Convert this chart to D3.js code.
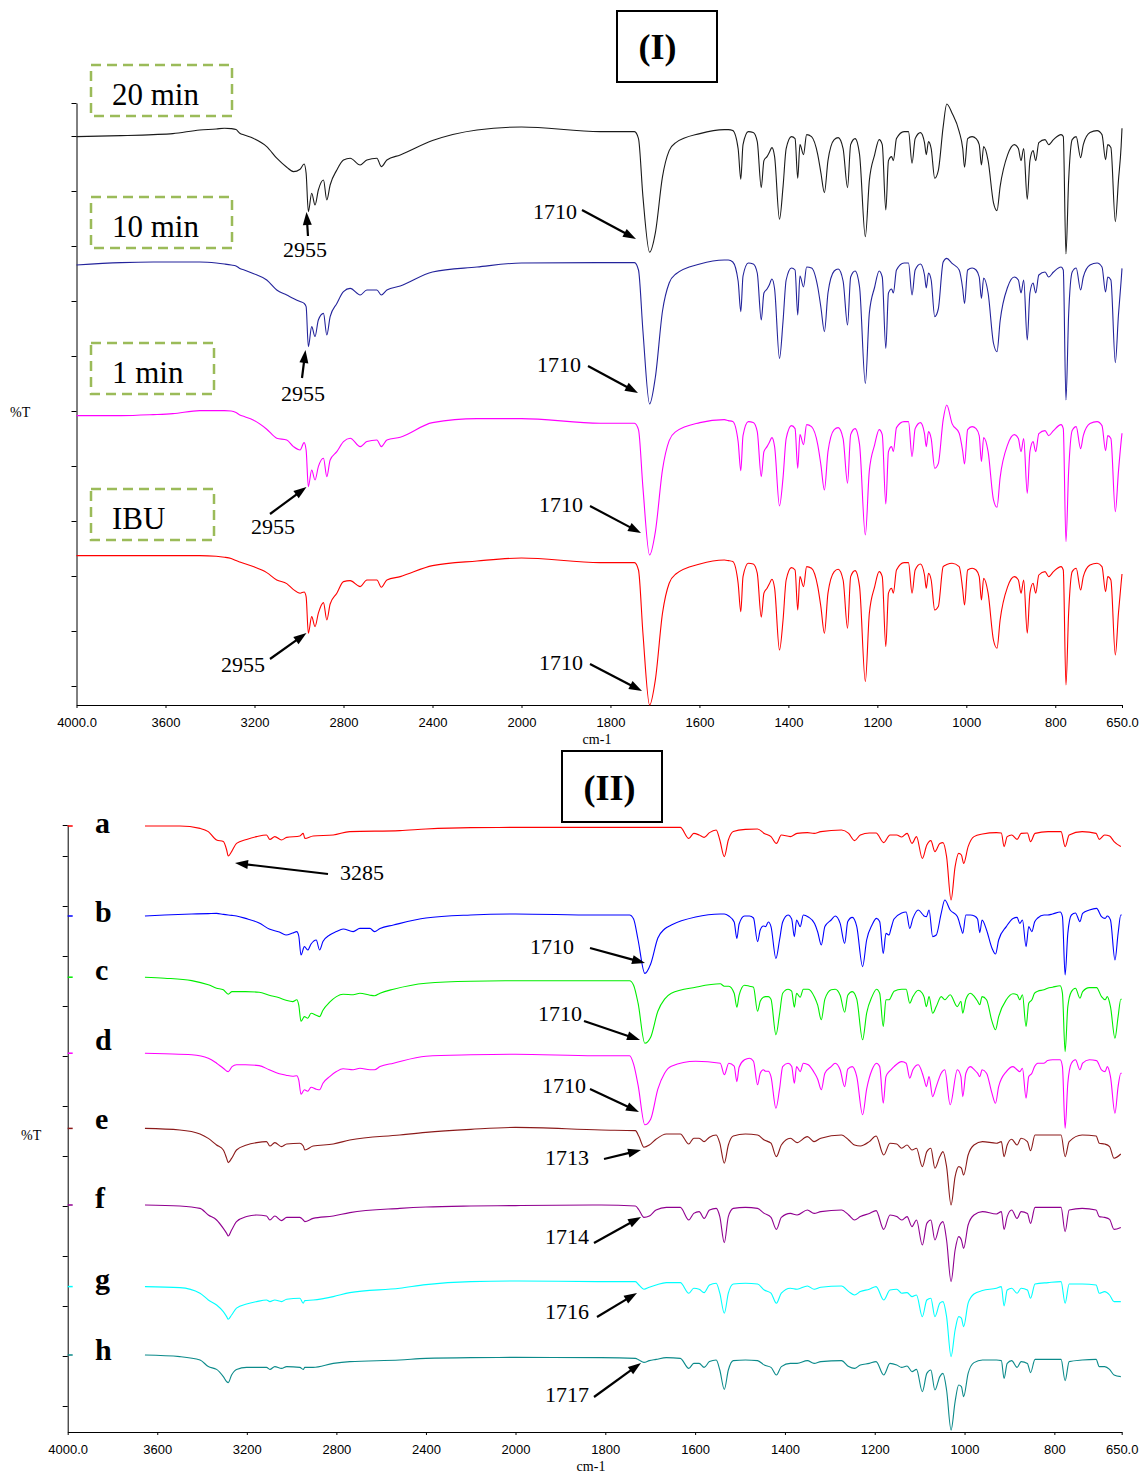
<!DOCTYPE html>
<html>
<head>
<meta charset="utf-8">
<script src="https://cdn.jsdelivr.net/npm/d3@7"></script>
<style>
  body { margin: 0; background: #fff; }
  svg { display: block; }
</style>
</head>
<body>
<div id="chart"></div>
<script>
// ---- wavenumber grids (cm-1) ----
// IBU-type spectra (panel I, and b, c, d of panel II)
const ibuHighWn = [4000, 3800, 3655, 3567, 3446, 3372, 3335, 3305, 3283, 3266,
  3246, 3206, 3145, 3100, 3055, 3025, 2995, 2977, 2968, 2958,
  2943, 2928, 2913, 2890, 2875, 2860, 2830, 2800, 2770, 2725,
  2695, 2650, 2630, 2605, 2545, 2400, 2200, 2000];
const ibuFingerWn = [
  1823, 1746, 1737, 1727, 1712, 1699, 1683, 1668, 1653, 1599,
  1544, 1535, 1525, 1513, 1507, 1502, 1490, 1479, 1470, 1461,
  1455, 1448, 1443, 1437, 1431, 1420, 1412, 1405, 1393, 1385,
  1379, 1374, 1366, 1359, 1348, 1334, 1327, 1319, 1311, 1297,
  1288, 1277, 1267, 1260, 1250, 1240, 1227, 1218, 1206, 1196,
  1189, 1181, 1175, 1168, 1164, 1157, 1140, 1130, 1122, 1115,
  1103, 1094, 1090, 1085, 1079, 1071, 1063, 1052, 1044, 1032,
  1016, 1008, 1004, 997, 987, 978, 971, 966, 961, 951,
  939, 931, 924, 907, 892, 883, 877, 871, 863, 857,
  850, 844, 837, 823, 815, 804, 787, 782, 776, 770,
  762, 753, 743, 737, 722, 706, 695, 687, 682, 675,
  665, 658, 652, 650];
// polymer-type spectra (a, e, f, g, h of panel II)
const chiHighWn = [3655, 3499, 3409, 3372, 3335, 3305, 3290, 3283, 3268, 3246,
  3201, 3156, 3112, 3097, 3075, 3045, 3022, 2963, 2948, 2941,
  2904, 2814, 2740, 2517, 2400, 2200, 2000];
const chiFingerWn = [
  1809, 1733, 1725, 1714, 1702, 1687, 1664, 1633, 1614, 1603,
  1591, 1580, 1568, 1553, 1545, 1535, 1526, 1515, 1488, 1461,
  1446, 1431, 1419, 1408, 1388, 1373, 1350, 1335, 1320, 1274,
  1258, 1245, 1232, 1212, 1197, 1180, 1166, 1151, 1140, 1128,
  1117, 1107, 1094, 1084, 1075, 1066, 1055, 1048, 1040, 1030,
  1021, 1013, 1007, 1002, 992, 979, 960, 929, 918, 912,
  905, 895, 883, 874, 860, 853, 843, 814, 785, 776,
  767, 738, 707, 700, 688, 677, 667, 652];

const xTickValues = [4000, 3600, 3200, 2800, 2400, 2000, 1800, 1600, 1400, 1200, 1000, 800, 650];

// ---- panel I : %T relative to each trace's start level ----
const min20High = [0, 0.5, 1, 1.5, 3.3, 3.8, 4.2, 4, 3.5, 1.7,
  0.8, -0.8, -5, -10.8, -15.3, -17.5, -16.3, -13.7, -18.3, -37.5,
  -28.3, -34.2, -26.7, -21.7, -31.7, -24.2, -16.7, -11.7, -10.8, -14.2,
  -11.7, -10.8, -15, -11.7, -9.2, -2, 3.3, 4.8];
const min20Finger = [
  2.5, 2.5, -1, -30, -57.8, -48, -20, -7, -3, 1.5,
  3.5, 3.5, 3, -6, -21.3, -4, 2.5, 2, -2.5, -25.5,
  -12, -10, -8, -5.5, -10, -41.3, -25, -6, 0, -1,
  -20.8, -4, -9, 1, 0, -9, -18, -28, -12, -1.5,
  -0.5, -6, -25.5, -4, -1, -9, -50, -22, -9, -1.5,
  -4, -36.7, -12, -10, -12, -1, 2.5, 2.5, -13.3, -1,
  2, -3, -9, -2.5, -6, -20.8, -17, 5, 16.3, 11.7,
  2.5, -6, -15.3, -1, 0, -1, -4, -14.2, -5, -12,
  -33, -37, -25, -9, -4, -6, -12, -6, -31.3, -12,
  -7, -12, -3, -1.5, -4, -1.5, 1, 0, -58.7, -22,
  -1.5, 0, -10.5, -4, 2, 3, 1, -11.5, -4, -5.5,
  -42.5, -22, -5, 4.2];

const min10High = [0, 1.2, 1.5, 1.5, 1.5, 1, 0.5, 0, -0.5, -1.7,
  -2.5, -4.2, -7.5, -12.5, -15, -16.7, -18.3, -19.2, -20.8, -40.8,
  -30.8, -35.8, -27.5, -24.2, -35, -25.8, -19.2, -13.3, -11.7, -15,
  -12.5, -12.5, -15, -12.5, -10.5, -3.5, -1, 1];
const min10Finger = [
  1.2, 1.2, -2.5, -33, -69.5, -56, -23, -9, -4.5, 0.5,
  2.5, 2.5, 1.5, -8, -23.3, -5.5, 1, 0.5, -4, -27.5,
  -14, -12, -10, -7, -12, -46.7, -28, -7.5, -1.5, -2.5,
  -25, -5.5, -11, -1, -1.5, -11, -21, -33.3, -14, -3,
  -2, -8, -30, -6, -3, -11, -59.2, -24, -11, -3,
  -6, -41.7, -14, -12, -14, -2.5, 1, 1, -15, -2.5,
  0.5, -5, -11.5, -4, -7.5, -25.8, -22, 1.5, 3.3, 0.8,
  -2.5, -12, -19.2, -2.5, -1.5, -2.5, -6, -16.7, -6.5, -14,
  -39, -43.3, -28, -11, -6, -7.5, -14, -7.5, -37.5, -14,
  -9, -14, -5, -3.5, -6, -3.5, -1, -2.5, -67.5, -25,
  -3.5, -1.5, -12.5, -6, 0, 1, -1, -13.5, -6, -7.5,
  -48.8, -25, -8, -1.7];

const min1High = [0, 0, 0.5, 1, 2.5, 2.5, 2.5, 2.3, 1.5, 0.3,
  -0.5, -2.2, -6.8, -11.3, -12.2, -15.5, -17.2, -13.5, -17.2, -35.5,
  -27.2, -32.2, -25.5, -21.3, -30.5, -22.2, -18, -13, -11.3, -15.5,
  -13, -12.2, -15.5, -12.2, -10.8, -3.5, -1.5, -1.5];
const min1Finger = [
  -3.8, -3.8, -7, -36, -69.7, -58, -27, -12.5, -8, -3.5,
  -2, -2.5, -3, -13, -27.5, -10, -3, -3.5, -8, -30.5,
  -18, -15.5, -13.5, -11, -15.5, -45.2, -31, -11.5, -5, -6.5,
  -26.3, -9.5, -14.5, -4.5, -5.5, -14.5, -24.5, -37.2, -18, -7,
  -6, -11.5, -33.8, -9.5, -6.5, -14.5, -59.7, -27.5, -14.5, -7,
  -9.5, -44.2, -18, -15.5, -18, -6, -3, -3, -20.5, -6.5,
  -3.5, -9, -15.5, -8, -11.5, -26.3, -24, -2, 5.3, -4,
  -8.8, -18, -24.2, -7, -5.5, -6.5, -10, -23, -11, -18,
  -42, -45.8, -31, -14.5, -9.5, -11.5, -18, -11.5, -38.8, -18,
  -13, -18, -9, -7.5, -10, -7.5, -4.5, -6.5, -63, -28,
  -7.5, -5.5, -16.5, -10, -4, -3, -5, -17.5, -10, -11.5,
  -48, -28, -13, -8.8];

const ibuHigh = [0, 0, 0, 0, 0, -0.3, -0.8, -1.5, -2.5, -3.2,
  -4, -5.5, -8.5, -12.2, -14, -17, -18.8, -18.2, -20.5, -38.8,
  -30.5, -35.5, -28.8, -23.5, -32.2, -24.2, -18.8, -13, -12.5, -15.5,
  -12.2, -12.2, -15.8, -12.2, -10.5, -5, -2.7, -1.2];
const ibuFinger = [
  -3.5, -3.5, -7.2, -38.8, -74.7, -62, -28.8, -13.8, -9.2, -4.2,
  -2.2, -2.5, -3, -13.8, -28, -10.5, -3.8, -4.2, -8.8, -30.8,
  -18.8, -16.3, -14.2, -11.8, -16.3, -47.2, -32.2, -12.2, -6, -7.2,
  -27.2, -10.5, -15.5, -5.5, -6.3, -15.5, -25.5, -38.8, -18.8, -8,
  -6.8, -12.2, -36.3, -10.5, -7.5, -15.5, -63, -28.8, -15.5, -8,
  -10.5, -45.5, -18.8, -16.3, -18.8, -7.2, -3.5, -3.5, -18.8, -7.2,
  -4.2, -9.7, -16.3, -8.8, -12.2, -27.2, -25.5, -5.5, -4.5, -3.8,
  -5.5, -17.2, -24.7, -7.2, -6.3, -7.2, -10.5, -22.2, -11.3, -18.8,
  -42.2, -46.3, -32.2, -15.5, -10.5, -12.2, -18.8, -12.2, -38.8, -18.8,
  -13.8, -18.8, -9.7, -8, -10.5, -8, -5.5, -7.2, -64.7, -28.8,
  -8, -6.3, -17.2, -10.5, -4.7, -3.8, -5.5, -18, -10.5, -12.2,
  -49.7, -28.8, -13.8, -9.2];

// ---- panel II ----
const bHigh = [null, null, 0, 0.5, 1, 1.2, 1.3, 0.8, 0.5, 0.3,
  0, -1.2, -3.5, -6.5, -8, -9.5, -8.5, -7.8, -10, -19.5,
  -15.3, -17, -14, -12, -17, -12.8, -9.5, -7.8, -6.5, -7.8,
  -6.2, -6.2, -7.8, -6.2, -4.5, -1, 0.5, 1];
const bFinger = [
  0.5, 0.5, -1.5, -12, -28.7, -24, -11, -6.5, -4.5, -0.5,
  1, 1, 0, -3, -11.2, -4, 0, 0, -1, -12.8,
  -7, -5, -5.3, -3, -5.3, -21.2, -12, -3, 0.5, -1.5,
  -10.3, -2, -5.3, 0.5, -0.5, -3.7, -8, -14.5, -5.3, -2,
  0, -3.7, -13.7, -2.8, -0.7, -5.3, -25.3, -12, -4.5, -1.2,
  -2.8, -18.7, -8.7, -9.5, -6.5, -1.5, 1.5, 2, -6.2, -1.2,
  3, 1, 0, -0.3, 3, -10.3, -9.5, 1.3, 8, 3,
  -0.3, -6, -8.7, 0.5, 0.5, 0, -1.5, -8.3, -2, -7,
  -16, -19, -12, -5.3, -1.2, -0.7, -3.7, -2, -15.3, -5.3,
  -7.8, -3, -1, 0.5, 0.5, 1, 2, -0.3, -29.5, -8.7,
  0.5, 1.5, -2.8, 1.3, 3, 3.8, -0.3, -1.2, 0, -2,
  -22, -8.7, 0.5, 0.5];

const cHigh = [null, null, 0, -0.5, -1.7, -3.8, -5.5, -6.3, -8.5, -7.2,
  -7.2, -7.2, -7.5, -9, -10.3, -11.5, -12.2, -11.3, -14, -22,
  -19.7, -20.5, -18, -19, -19.7, -16.5, -12.5, -9.7, -8.5, -8.8,
  -8, -9, -9.3, -8, -6, -3, -2, -1.8];
const cFinger = [
  -1.8, -1.8, -4, -13, -33, -30, -17, -11, -8, -5,
  -3.3, -4.5, -4.5, -8, -15, -9, -4, -4.5, -5, -17,
  -12, -10, -9.7, -9.7, -11, -28.8, -18.5, -8, -6, -7,
  -15, -8, -10, -6, -6, -10, -14, -21.3, -11, -6.3,
  -6, -9, -17.5, -9, -7.2, -11, -31.3, -18, -9.7, -6,
  -8, -24.7, -11.3, -11.3, -10, -7, -6, -6, -13, -9.7,
  -6.5, -8, -10, -14.7, -9.7, -18, -14.7, -9.7, -11.3, -8.8,
  -14.7, -12, -18, -11, -8, -9.7, -12, -13.8, -9.7, -11.3,
  -22, -26.3, -19.7, -11.3, -8.3, -8.8, -11.3, -8.8, -24.7, -13,
  -11.3, -8, -7, -6.3, -5.5, -5, -4.3, -8, -37.2, -14.7,
  -7.2, -5.5, -10.5, -7.2, -5.2, -5.2, -9.7, -11.3, -9.7, -14.7,
  -30.5, -19.7, -11, -11];

const dHigh = [null, null, 0, -0.3, -0.8, -2.5, -5, -7.5, -9.2, -6.7,
  -5.8, -5.8, -6.2, -8.3, -10.3, -11, -11.5, -11.3, -13.5, -20.5,
  -18.3, -19, -17, -18, -18.3, -15, -11.7, -9.2, -7.8, -8.3,
  -7.5, -8.3, -8.3, -6.7, -5, -1.5, -0.8, -0.5];
const dFinger = [
  -1.3, -1.3, -5.5, -16, -35.8, -33, -18, -10, -6.5, -4,
  -5, -10.8, -5, -6.5, -14.2, -7, -3.3, -2.5, -4, -15.8,
  -10, -8.3, -9, -9, -11.7, -27.5, -18, -6.7, -5, -6.5,
  -15, -6.7, -9.2, -5, -5.8, -10, -13, -18.3, -10, -6.7,
  -5, -8.3, -16.7, -8, -6.7, -11.7, -30.8, -18, -8.3, -5,
  -6.7, -25, -11.7, -9.2, -8.3, -6.7, -4.2, -5, -12.5, -8.3,
  -5.8, -10, -13, -16.7, -11.7, -21.7, -16.7, -10, -8.3, -25.8,
  -8.3, -11.7, -21.7, -10, -6.7, -8.3, -10, -11.7, -8.3, -10,
  -20, -25, -16.7, -9.2, -6.7, -8.3, -9.2, -7.5, -22.5, -11.7,
  -10, -6.7, -5, -5, -3.7, -3.3, -3.3, -6.7, -37.5, -15,
  -5, -3.3, -8.3, -5, -3.3, -3.7, -8.3, -9.2, -6.7, -11.7,
  -30, -16.7, -10, -10];

const aHigh = [0, 0, -1.2, -2.8, -7, -7.8, -12, -15, -12.8, -8.7,
  -6.7, -5.3, -4.5, -6.7, -5.3, -7, -5.7, -5, -3.7, -6.2,
  -5, -4.5, -2.8, -2.3, -1.5, -0.8, -0.7];
const aFinger = [
  -0.7, -0.7, -0.7, -0.7, -0.7, -0.7, -0.7, -0.7, -6.2, -3.7,
  -4.5, -5.7, -3.3, -2, -7, -15.3, -7, -2.8, -1.7, -1.5,
  -3.7, -5.3, -8.7, -4.5, -5.3, -3.7, -3.3, -3.7, -2.8, -2,
  -3.7, -7.3, -4.5, -3.5, -3.5, -8.3, -4.5, -4.5, -5.5, -3.7,
  -8.7, -5.3, -16.2, -9.5, -7.3, -12.8, -8.7, -8.3, -15.3, -37,
  -20.3, -13.7, -14.5, -18.7, -10.3, -5.3, -4, -3.3, -3.5, -10.3,
  -5.3, -4.5, -6.7, -3.7, -3.5, -7.8, -3.7, -2.8, -2.8, -10.3,
  -4.5, -2.8, -3.7, -6.7, -4.5, -5, -7.8, -10.3];

const eHigh = [0, -0.8, -2.8, -5, -8.3, -10.8, -15, -17.1, -15, -10.8,
  -8.3, -7.1, -6.6, -8.8, -7.1, -9.1, -7.8, -7.4, -8.8, -10.8,
  -8.8, -7.8, -5.8, -3.3, -2, -0.5, 0.5];
const eFinger = [
  -0.8, -1.1, -4.1, -9.4, -8.3, -5.4, -2.8, -2.8, -7.8, -4.9,
  -4.9, -6.6, -4.4, -3.3, -7.4, -17.4, -8.3, -3.8, -2.8, -3.3,
  -5.8, -7.4, -14.1, -8.3, -4.9, -7.1, -4.1, -6.6, -4.9, -3.3,
  -5.8, -8.3, -8.8, -6.6, -3.8, -13.3, -7.4, -7.8, -9.9, -8.3,
  -10.8, -9.9, -19.1, -11.6, -9.9, -19.9, -14.1, -11.6, -19.1, -38.3,
  -24.1, -19.1, -19.9, -23.3, -13.3, -8.3, -6.6, -7.4, -6.6, -14.1,
  -8.3, -5.4, -8.3, -4.9, -6.6, -11.1, -3.3, -3.3, -3.3, -14.1,
  -6.6, -3.3, -3.8, -7.4, -7.8, -9.1, -14.9, -12.8];

const fHigh = [0, -0.5, -1.7, -5, -7.5, -11.7, -14.2, -15.5, -12.5, -8.3,
  -5.8, -5, -5.5, -7.5, -5.5, -7.8, -6.2, -6.2, -7.5, -8.3,
  -6.7, -5.5, -3.8, -1.7, -1, -0.5, -0.3];
const fFinger = [
  0, -0.5, -2.5, -6.2, -5.5, -2.5, -1.2, -1.2, -7.5, -4.2,
  -3.3, -6.7, -2.5, -1.7, -5.8, -18.8, -5.8, -1.7, -1.2, -1.7,
  -4.2, -6.2, -12.2, -6.2, -4.2, -5, -2.5, -4.2, -3.3, -2.5,
  -5, -7.5, -5.8, -4.2, -2.8, -12.2, -5, -5.8, -7.5, -5.8,
  -10.8, -7.5, -20, -9.2, -7.5, -17.5, -10, -8.3, -17.5, -38.3,
  -22.5, -15.8, -17.5, -21.7, -10, -5, -3.3, -4.5, -3.3, -12.2,
  -5.8, -2.5, -6.7, -3.3, -4.2, -9.2, -1.2, -1.2, -1.2, -13.3,
  -2.5, -1.7, -2.5, -5.8, -6.2, -7.2, -12.2, -11.2];

const gHigh = [0, -0.5, -3.3, -6.7, -9.2, -12.5, -15, -16.3, -14.2, -10.8,
  -8.7, -7.5, -6.7, -7.5, -6.7, -7.5, -6.3, -5.8, -8.3, -7,
  -6.7, -5, -3, -0.8, 1, 2.5, 2.8];
const gFinger = [
  2.5, 2.5, 0.8, -1.3, -0.3, 0.8, 2, 2, -3.3, -0.8,
  -1.3, -3, 0.8, 1.7, -3.3, -13.3, -3.3, 1.3, 1.7, 1.3,
  -1.7, -3.3, -8.3, -3.3, -0.8, -1.3, 0.3, -1.3, -0.3, 0.3,
  -2.5, -4.2, -2.5, -1.3, 0, -6.7, -1.7, -1.3, -3.3, -3,
  -5, -4.2, -15, -6.7, -5.8, -15, -8.3, -7.5, -15, -35,
  -21.7, -15, -15.8, -20, -8.3, -3.7, -2, -0.8, 0, -9.7,
  -1.7, -0.8, -3.3, -0.8, -1.7, -5.8, 1.3, 2, 2.5, -8.3,
  1.3, 1.3, 0.8, -3.3, -2.5, -4.2, -7.5, -7.5];

const hHigh = [0, -0.8, -2.5, -5.8, -7.2, -10.8, -13.3, -13.8, -10, -7.2,
  -6.2, -6.2, -6.2, -7.2, -5.8, -6.7, -5.8, -6.2, -7.2, -6.2,
  -6.2, -4.2, -3.3, -2.5, -1.7, -1.3, -1.2];
const hFinger = [
  -1.3, -1.7, -2.5, -3.7, -2.8, -2.2, -1.3, -1.7, -6.7, -4.2,
  -4.2, -6.2, -3.3, -2.5, -7.5, -17.2, -7.5, -2.8, -2.5, -2.8,
  -5, -6.2, -10, -5.8, -4.2, -4.2, -2.8, -4.2, -3.3, -2.8,
  -5.8, -6.7, -5, -4.2, -3.3, -10, -4.2, -5, -6.2, -5.5,
  -8.3, -7.2, -18.3, -9.2, -7.5, -17.5, -10.8, -9.2, -17.5, -37.5,
  -23.3, -15, -15.8, -20.8, -9.2, -3.8, -2.5, -2.5, -2.8, -11.7,
  -4.2, -2.8, -6.2, -3.3, -4.2, -8.8, -2.2, -2.2, -2.2, -12.8,
  -3.3, -2.5, -2.2, -5.8, -5.8, -7.2, -10, -10.8];

// ---- drawing ----
const serif = "'Liberation Serif','Times New Roman',serif";
const sans = "'Liberation Sans',Arial,sans-serif";

const svg = d3.select("#chart").append("svg")
  .attr("width", 1142)
  .attr("height", 1474);

function points(wnA, vA, wnB, vB, name) {
  const wn = wnA.concat(wnB), v = vA.concat(vB);
  if (wn.length !== v.length) throw new Error(name + ": " + v.length + " values for " + wn.length + " wavenumbers");
  return wn.map((w, i) => ({ w: w, v: v[i] })).filter(d => d.v !== null);
}

const tickFmt = d => (d === 4000 || d === 650) ? d.toFixed(1) : String(d);

function drawPanel(p) {
  const g = svg.append("g");
  const x0 = p.x.range()[0];

  g.append("g")
    .attr("transform", "translate(" + x0 + ",0)")
    .call(d3.axisLeft(p.y).tickValues(p.yTicks).tickSize(5).tickSizeOuter(0).tickFormat(""));

  g.append("g")
    .attr("transform", "translate(0," + p.y.range()[0] + ")")
    .call(d3.axisBottom(p.x).tickValues(xTickValues).tickSize(3).tickSizeOuter(0)
      .tickPadding(p.pad).tickFormat(tickFmt))
    .attr("font-family", sans)
    .attr("font-size", 13);

  g.append("text")
    .attr("x", p.unit[0]).attr("y", p.unit[1])
    .attr("text-anchor", "middle")
    .attr("font-family", serif).attr("font-size", 14)
    .text("cm-1");

  g.append("text")
    .attr("x", p.pct[0]).attr("y", p.pct[1])
    .attr("font-family", serif).attr("font-size", 14)
    .text("%T");

  p.series.forEach(s => {
    const pts = points(s.highWn, s.high, s.fingerWn, s.finger, s.label);
    const line = d3.line()
      .x(d => p.x(d.w))
      .y(d => p.y(s.base + d.v))
      .curve(d3.curveMonotoneX);
    g.append("path")
      .datum(pts)
      .attr("fill", "none")
      .attr("stroke", s.color)
      .attr("stroke-width", 1.1)
      .attr("stroke-linejoin", "round")
      .attr("d", line);
    if (p.markers) {
      g.append("line")
        .attr("x1", x0).attr("x2", x0 + 5)
        .attr("y1", p.y(s.base)).attr("y2", p.y(s.base))
        .attr("stroke", s.color).attr("stroke-width", 1.5);
    }
  });
  return g;
}

drawPanel({
  x: d3.scaleLinear().domain([4000, 2000, 650]).range([76.5, 521.5, 1122]),
  y: d3.scaleLinear().domain([0, 301]).range([705, 103]),
  yTicks: d3.range(9.5, 290, 27.5).concat([301]),
  pad: 10, unit: [597, 744], pct: [10, 417], markers: false,
  series: [
    { label: "20 min", highWn: ibuHighWn, high: min20High, fingerWn: ibuFingerWn, finger: min20Finger, base: 284.2, color: "#1a1a1a" },
    { label: "10 min", highWn: ibuHighWn, high: min10High, fingerWn: ibuFingerWn, finger: min10Finger, base: 220, color: "#23239b" },
    { label: "1 min", highWn: ibuHighWn, high: min1High, fingerWn: ibuFingerWn, finger: min1Finger, base: 144.7, color: "#ff00ff" },
    { label: "IBU", highWn: ibuHighWn, high: ibuHigh, fingerWn: ibuFingerWn, finger: ibuFinger, base: 74.7, color: "#ff0000" }
  ]
});

drawPanel({
  x: d3.scaleLinear().domain([4000, 2000, 650]).range([67.7, 515.5, 1121.7]),
  y: d3.scaleLinear().domain([0, 303.5]).range([1432, 825]),
  yTicks: d3.range(13, 300, 25).concat([303.5]),
  pad: 10, unit: [591, 1471], pct: [21, 1140], markers: true,
  series: [
    { label: "a", highWn: chiHighWn, high: aHigh, fingerWn: chiFingerWn, finger: aFinger, base: 303, color: "#ff0000" },
    { label: "b", highWn: ibuHighWn, high: bHigh, fingerWn: ibuFingerWn, finger: bFinger, base: 258, color: "#0000ff" },
    { label: "c", highWn: ibuHighWn, high: cHigh, fingerWn: ibuFingerWn, finger: cFinger, base: 227.4, color: "#00ee00" },
    { label: "d", highWn: ibuHighWn, high: dHigh, fingerWn: ibuFingerWn, finger: dFinger, base: 189.4, color: "#ff00ff" },
    { label: "e", highWn: chiHighWn, high: eHigh, fingerWn: chiFingerWn, finger: eFinger, base: 151.8, color: "#8b1a1a" },
    { label: "f", highWn: chiHighWn, high: fHigh, fingerWn: chiFingerWn, finger: fFinger, base: 113.5, color: "#900090" },
    { label: "g", highWn: chiHighWn, high: gHigh, fingerWn: chiFingerWn, finger: gFinger, base: 72.7, color: "#00ffff" },
    { label: "h", highWn: chiHighWn, high: hHigh, fingerWn: chiFingerWn, finger: hFinger, base: 38.5, color: "#0b8a8a" }
  ]
});

// ---- panel titles ----
[{ t: "(I)", x: 617, y: 11, w: 100, h: 71, tx: 657.5, ty: 59 },
 { t: "(II)", x: 562, y: 751, w: 100, h: 71, tx: 609.5, ty: 800 }].forEach(b => {
  svg.append("rect")
    .attr("x", b.x).attr("y", b.y).attr("width", b.w).attr("height", b.h)
    .attr("fill", "none").attr("stroke", "#000").attr("stroke-width", 2);
  svg.append("text")
    .attr("x", b.tx).attr("y", b.ty)
    .attr("text-anchor", "middle")
    .attr("font-family", serif).attr("font-weight", "bold").attr("font-size", 36)
    .text(b.t);
});

// ---- dashed label boxes of panel I ----
[{ t: "20 min", y: 65, w: 141, ty: 105 },
 { t: "10 min", y: 197, w: 141, ty: 237 },
 { t: "1 min", y: 343, w: 123, ty: 383 },
 { t: "IBU", y: 489, w: 123, ty: 529 }].forEach(b => {
  svg.append("rect")
    .attr("x", 91).attr("y", b.y).attr("width", b.w).attr("height", 51)
    .attr("fill", "none").attr("stroke", "#9bbb59").attr("stroke-width", 2.5)
    .attr("stroke-dasharray", "10,6");
  svg.append("text")
    .attr("x", 112).attr("y", b.ty)
    .attr("font-family", serif).attr("font-size", 31)
    .text(b.t);
});

// ---- letters of panel II ----
[["a", 833], ["b", 922], ["c", 980], ["d", 1050], ["e", 1129], ["f", 1208], ["g", 1289], ["h", 1360]]
  .forEach(([t, y]) => {
    svg.append("text")
      .attr("x", 95).attr("y", y)
      .attr("font-family", serif).attr("font-weight", "bold").attr("font-size", 30)
      .text(t);
  });

// ---- peak annotations: text, then arrow tail -> tip ----
const notes = [
  { t: "2955", tx: 283, ty: 257, from: [308, 236], to: [306.5, 212] },
  { t: "1710", tx: 533, ty: 219, from: [582, 210], to: [636, 239] },
  { t: "2955", tx: 281, ty: 401, from: [302, 378], to: [305.5, 350] },
  { t: "1710", tx: 537, ty: 372, from: [588, 366], to: [638, 393] },
  { t: "2955", tx: 251, ty: 534, from: [270, 514], to: [306.5, 487] },
  { t: "1710", tx: 539, ty: 512, from: [590, 506], to: [641, 533] },
  { t: "2955", tx: 221, ty: 672, from: [270, 659], to: [306.5, 633] },
  { t: "1710", tx: 539, ty: 670, from: [590, 664], to: [642, 691] },
  { t: "3285", tx: 340, ty: 880, from: [328, 874], to: [235, 863] },
  { t: "1710", tx: 530, ty: 954, from: [590, 948], to: [645, 963] },
  { t: "1710", tx: 538, ty: 1021, from: [584, 1021], to: [640, 1040] },
  { t: "1710", tx: 542, ty: 1093, from: [590, 1089], to: [639, 1112] },
  { t: "1713", tx: 545, ty: 1165, from: [604, 1159], to: [641, 1150] },
  { t: "1714", tx: 545, ty: 1244, from: [594, 1243], to: [641, 1217] },
  { t: "1716", tx: 545, ty: 1319, from: [597, 1317], to: [637, 1293] },
  { t: "1717", tx: 545, ty: 1402, from: [594, 1397], to: [641, 1363] }
];

const ann = svg.append("g");
notes.forEach(n => {
  ann.append("text")
    .attr("x", n.tx).attr("y", n.ty)
    .attr("font-family", serif).attr("font-size", 22)
    .text(n.t);
  const dx = n.to[0] - n.from[0], dy = n.to[1] - n.from[1];
  const len = Math.sqrt(dx * dx + dy * dy);
  const ux = dx / len, uy = dy / len;
  const head = 13, half = 4.5;
  const bx = n.to[0] - ux * head, by = n.to[1] - uy * head;
  ann.append("line")
    .attr("x1", n.from[0]).attr("y1", n.from[1])
    .attr("x2", bx + ux * 2).attr("y2", by + uy * 2)
    .attr("stroke", "#000").attr("stroke-width", 2.2);
  ann.append("path")
    .attr("d", "M" + n.to[0] + "," + n.to[1] +
      "L" + (bx - uy * half) + "," + (by + ux * half) +
      "L" + (bx + uy * half) + "," + (by - ux * half) + "Z")
    .attr("fill", "#000");
});
</script>
</body>
</html>
